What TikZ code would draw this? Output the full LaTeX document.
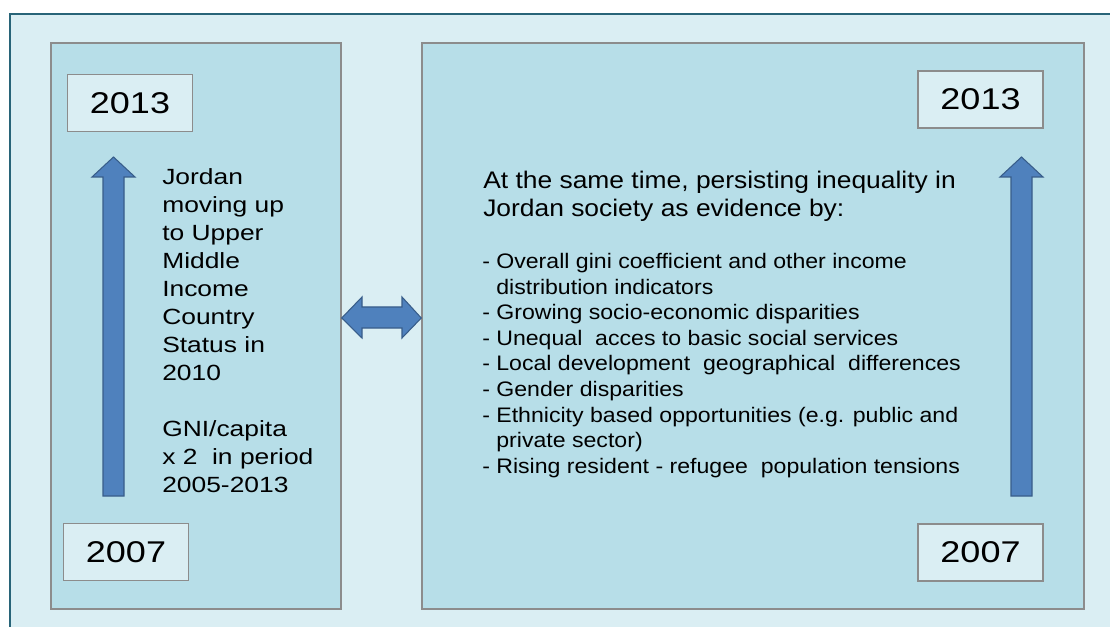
\documentclass[tikz,border=0pt]{standalone}
\usepackage{fontspec}
\setmainfont{Liberation Sans}
\newfontfamily\widefont[FakeStretch=1.2]{Liberation Sans}
\newfontfamily\listfont[FakeStretch=1.1]{Liberation Sans}
\usepackage{tikz}
\usetikzlibrary{fit}

\definecolor{framefill}{RGB}{218,238,243}
\definecolor{framedge}{RGB}{40,100,120}
\definecolor{panelfill}{RGB}{183,222,232}
\definecolor{paneledge}{RGB}{140,140,140}
\definecolor{arrowblue}{RGB}{79,129,189}
\definecolor{arrowedge}{RGB}{56,93,138}

\tikzset{
  panel/.style={draw=paneledge, fill=panelfill, line width=1.1pt, inner sep=0pt},
  yearbox/.style={draw=paneledge, fill=framefill, line width=1.1pt, inner sep=0pt,
    minimum width=93.5pt, minimum height=42.5pt,
    font=\widefont\fontsize{22.5}{27}\selectfont},
  blockarrow/.style={draw=arrowedge, fill=arrowblue, line width=0.8pt, line join=miter},
  lefttext/.style={inner sep=0pt, align=left, anchor=north west,
    font=\widefont\fontsize{16.5}{21}\selectfont},
  headtext/.style={inner sep=0pt, align=left, anchor=north west,
    font=\listfont\fontsize{18}{21}\selectfont},
  listtext/.style={inner sep=0pt, align=left, anchor=north west,
    font=\listfont\fontsize{15.75}{19.2}\selectfont}
}

\begin{document}
\begin{tikzpicture}[x=0.75pt, y=-0.75pt]
    \useasboundingbox (0,0) rectangle (1110,627);

    % outer frame, runs off the page on the right and bottom
    \draw [draw=framedge, fill=framefill, line width=1.2pt] (10,14) rectangle (1200,700);

    % the two panels
    \node [panel, fit={(51,43) (341,609)}] (leftpanel) {};
    \node [panel, fit={(422,43) (1084,609)}] (rightpanel) {};

    % year boxes
    \node [yearbox] (lefttop) at (130,103) {2013};
    \node [yearbox] (leftbottom) at (126,552) {2007};
    \node [yearbox] (righttop) at (980.5,99.5) {2013};
    \node [yearbox] (rightbottom) at (980.5,552.5) {2007};

    % up arrows
    \draw [blockarrow] (103,496) -- (103,177) -- (92,177) -- (113.5,157)
        -- (135,177) -- (124,177) -- (124,496) -- cycle;
    \draw [blockarrow] (1011,496) -- (1011,177) -- (1000,177) -- (1021.5,157)
        -- (1043,177) -- (1032,177) -- (1032,496) -- cycle;

    % double arrow between the panels
    \draw [blockarrow] (leftpanel.east |- 0,318) -- (362,297) -- (362,307)
        -- (402,307) -- (402,297) -- (rightpanel.west |- 0,318) -- (402,338)
        -- (402,328) -- (362,328) -- (362,338) -- cycle;

    % left text
    \node [lefttext] (growth) at (162,168) {Jordan\\ moving up\\ to Upper\\ Middle\\
        Income\\ Country\\ Status in\\ 2010\\[21pt] GNI/capita\\ x 2 \ in period\\ 2005-2013};

    % right text
    \node [headtext] (inequality) at (483,170.5) {At the same time, persisting inequality in\\
        Jordan society as evidence by:};
    \node [listtext] (evidence) at (482,253) {- Overall gini coefficient and other income\\
        \phantom{- }distribution indicators\\
        - Growing socio-economic disparities\\
        - Unequal \ acces to basic social services\\
        - Local development \ geographical \ differences\\
        - Gender disparities\\
        - Ethnicity based opportunities (e.g. public and\\
        \phantom{- }private sector)\\
        - Rising resident - refugee \ population tensions};

\end{tikzpicture}
\end{document}
